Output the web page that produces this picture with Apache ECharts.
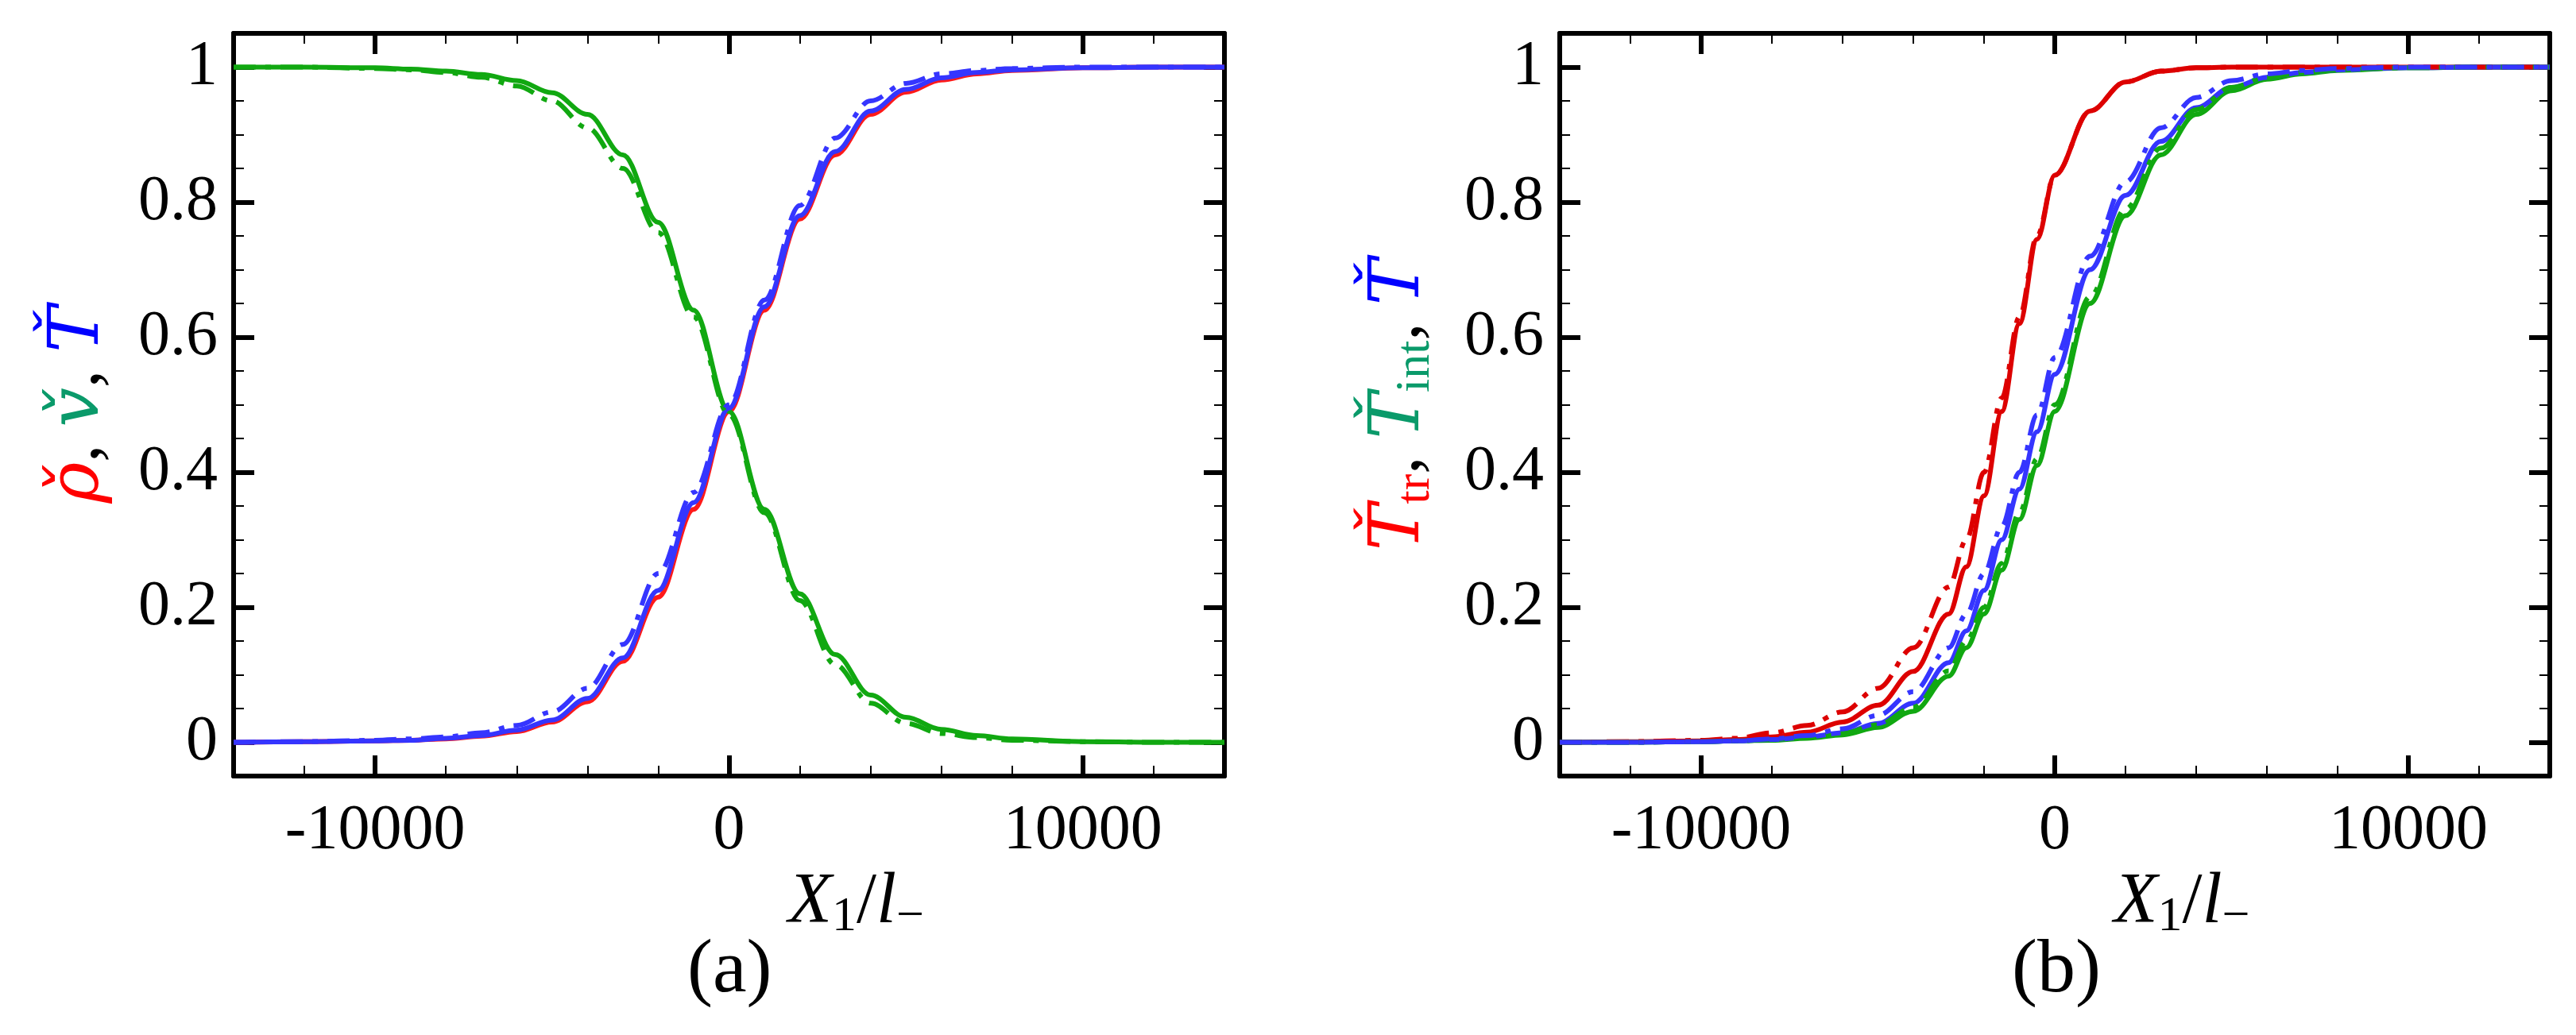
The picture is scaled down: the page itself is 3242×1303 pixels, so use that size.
<!DOCTYPE html>
<html><head><meta charset="utf-8">
<script src="https://cdn.jsdelivr.net/npm/echarts@6/dist/echarts.min.js"></script>
<style>html,body{margin:0;padding:0;background:#fff}#c{width:3242px;height:1303px}</style>
</head><body><div id="c"></div>
<script>
// Panel (a)
const xa = [-14000,-12000,-10000,-9000,-8000,-7000,-6000,-5000,-4000,-3000,-2000,-1000,0,1000,2000,3000,4000,5000,6000,7000,8000,10000,12000,14000];
const rhoSolid = [0,0.001,0.002,0.003,0.005,0.009,0.016,0.03,0.06,0.12,0.215,0.345,0.49,0.64,0.775,0.87,0.93,0.963,0.981,0.99,0.995,0.999,1,1];
const tSolidA  = [0,0.001,0.002,0.003,0.006,0.01,0.018,0.033,0.065,0.125,0.225,0.355,0.495,0.645,0.78,0.875,0.935,0.967,0.984,0.992,0.996,0.999,1,1];
const tDashA   = [0,0.001,0.003,0.005,0.008,0.014,0.025,0.045,0.08,0.145,0.25,0.37,0.50,0.655,0.795,0.895,0.95,0.976,0.99,0.995,0.998,1,1,1];
const vSolid   = [1,1,0.999,0.997,0.994,0.989,0.98,0.962,0.93,0.87,0.77,0.64,0.49,0.345,0.22,0.13,0.07,0.037,0.019,0.01,0.005,0.001,0,0];
const vDash    = [1,1,0.998,0.996,0.992,0.985,0.972,0.95,0.91,0.85,0.755,0.63,0.485,0.34,0.21,0.115,0.058,0.028,0.013,0.007,0.003,0.001,0,0];
// Panel (b)
const xb = [-14000,-12000,-10000,-9000,-8000,-7000,-6000,-5000,-4000,-3000,-2500,-2000,-1500,-1000,-500,0,1000,2000,3000,4000,5000,6000,7000,8000,10000,12000,14000];
const trSolid = [0,0.001,0.002,0.004,0.008,0.015,0.03,0.055,0.105,0.19,0.26,0.365,0.49,0.62,0.745,0.84,0.935,0.978,0.994,0.999,1,1,1,1,1,1,1];
const trDash  = [0,0.001,0.003,0.006,0.014,0.025,0.045,0.08,0.14,0.23,0.30,0.40,0.51,0.63,0.75,0.84,0.935,0.978,0.994,0.999,1,1,1,1,1,1,1];
const tSolidB = [0,0,0.001,0.002,0.004,0.008,0.014,0.028,0.058,0.118,0.165,0.225,0.30,0.375,0.46,0.545,0.70,0.81,0.89,0.94,0.97,0.985,0.992,0.996,0.999,1,1];
const tDashB  = [0,0,0.001,0.002,0.005,0.01,0.02,0.04,0.075,0.14,0.19,0.25,0.32,0.40,0.485,0.57,0.72,0.83,0.91,0.955,0.98,0.99,0.995,0.998,1,1,1];
const intSolid= [0,0,0.001,0.002,0.003,0.006,0.011,0.022,0.046,0.098,0.14,0.19,0.255,0.33,0.41,0.49,0.65,0.78,0.87,0.93,0.965,0.982,0.99,0.995,0.999,1,1];
const intDash = [0,0,0.001,0.002,0.004,0.007,0.013,0.026,0.052,0.106,0.15,0.2,0.265,0.34,0.42,0.50,0.66,0.79,0.88,0.937,0.97,0.985,0.992,0.996,0.999,1,1];
const xTicks = [-10000,0,10000];
const yTicks = [0,0.2,0.4,0.6,0.8,1];

const zip = (xs, ys) => xs.map((x,i)=>[x,ys[i]]);
const RED='#ff1a1a', RED2='#dd0000', GREEN='#11a811', BLUE='#3535ff';
const DASHDOT=[28,12,7,12];
const font = '"Liberation Serif","DejaVu Serif",serif';
const nfont = '"DejaVu Serif","Liberation Serif",serif';

function xAx(grid, top, major){
  const ax = {type:'value', gridIndex:grid, position: top?'top':'bottom', min:-14000, max:14000, interval:2000,
    axisLine:{show:!major, onZero:false, lineStyle:{color:'#000', width:6}},
    axisTick:{show:true, inside:true, length:13, lineStyle:{width:2,color:'#000'}},
    splitLine:{show:false},
    axisLabel:{show:false}};
  if (major) {
    ax.axisTick = {show:true, inside:true, length:26, customValues:xTicks, lineStyle:{width:6,color:'#000'}};
    ax.axisLabel = {show:!top, margin:30, fontFamily:font, fontSize:80, color:'#000', customValues:xTicks, formatter:v=>String(v)};
    if (!top) {
      ax.name = '{i|X}{s|1}{n|/}{i|l}{s|−}'; ax.nameLocation='middle'; ax.nameGap=100;
      ax.nameTextStyle = {padding:[0,0,0,320], rich:{i:{fontFamily:font,fontStyle:'italic',fontSize:90,color:'#000'},
        n:{fontFamily:font,fontSize:90,color:'#000'},
        s:{fontFamily:font,fontSize:62,color:'#000',padding:[36,0,0,0]}}};
    }
  }
  return ax;
}
function yAx(grid, right, major, name){
  const ax = {type:'value', gridIndex:grid, position: right?'right':'left', min:-0.05, max:1.05, interval:0.05,
    axisLine:{show:!major, onZero:false, lineStyle:{color:'#000', width:6}},
    axisTick:{show:true, inside:true, length:13, lineStyle:{width:2,color:'#000'}},
    splitLine:{show:false},
    axisLabel:{show:false}};
  if (major) {
    ax.axisTick = {show:true, inside:true, length:26, customValues:yTicks, lineStyle:{width:6,color:'#000'}};
    ax.axisLabel = {show:!right, margin:20, fontFamily:font, fontSize:80, color:'#000', customValues:yTicks, formatter:v=>String(Math.round(v*10)/10)};
    if (!right) {
      ax.name = name; ax.nameLocation='middle'; ax.nameGap=150; ax.nameRotate=90;
      ax.nameTextStyle = {rich:{
        r:{fontFamily:nfont,fontStyle:'italic',fontSize:88,color:'#ff0000'},
        g:{fontFamily:nfont,fontStyle:'italic',fontSize:88,color:'#0a9a6a'},
        b:{fontFamily:nfont,fontStyle:'italic',fontSize:88,color:'#0000ff'},
        rs:{fontFamily:font,fontSize:62,color:'#ff0000',padding:[40,0,0,0]},
        gs:{fontFamily:font,fontSize:62,color:'#0a9a6a',padding:[40,0,0,0]},
        k:{fontFamily:font,fontSize:88,color:'#000'}}};
    }
  }
  return ax;
}
function ln(xi, yi, data, color, dash){
  return {type:'line', xAxisIndex:xi, yAxisIndex:yi, data, smooth:0.35, smoothMonotone:'x', showSymbol:false, symbol:'none',
    lineStyle:{color, width:6, type: dash?DASHDOT:'solid', cap:'butt'}, z: dash?3:2};
}
const chart = echarts.init(document.getElementById('c'), null, {renderer:'canvas'});
chart.setOption({
  animation:false, backgroundColor:'#fff',
  grid:[{left:294,right:1701,top:42,bottom:326},{left:1963,right:33,top:42,bottom:326}],
  xAxis:[xAx(0,false,false),xAx(0,true,false),xAx(1,false,false),xAx(1,true,false),
         xAx(0,false,true),xAx(0,true,true),xAx(1,false,true),xAx(1,true,true)],
  yAxis:[yAx(0,false,false),yAx(0,true,false),yAx(1,false,false),yAx(1,true,false),
         yAx(0,false,true,'{r|ρ̌}{k|, }{g|v̌}{k|, }{b|Ť}'),yAx(0,true,true),
         yAx(1,false,true,'{r|Ť}{rs|tr}{k|, }{g|Ť}{gs|int}{k|, }{b|Ť}'),yAx(1,true,true)],
  title:[{text:'(a)',left:860,top:1170,textStyle:{fontFamily:font,fontSize:96,fontWeight:'normal',color:'#000'}},
         {text:'(b)',left:2527,top:1170,textStyle:{fontFamily:font,fontSize:96,fontWeight:'normal',color:'#000'}}],
  series:[
    ln(0,0,zip(xa,rhoSolid),RED,false),
    ln(0,0,zip(xa,vDash),GREEN,true),
    ln(0,0,zip(xa,vSolid),GREEN,false),
    ln(0,0,zip(xa,tDashA),BLUE,true),
    ln(0,0,zip(xa,tSolidA),BLUE,false),
    ln(2,2,zip(xb,trDash),RED2,true),
    ln(2,2,zip(xb,trSolid),RED2,false),
    ln(2,2,zip(xb,intDash),GREEN,true),
    ln(2,2,zip(xb,intSolid),GREEN,false),
    ln(2,2,zip(xb,tDashB),BLUE,true),
    ln(2,2,zip(xb,tSolidB),BLUE,false)
  ]
});
</script></body></html>
